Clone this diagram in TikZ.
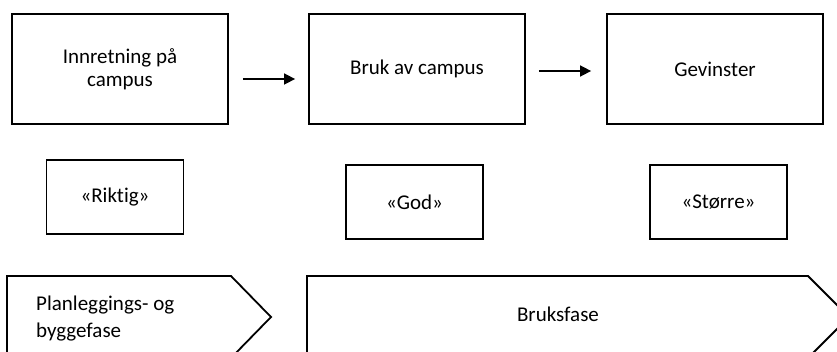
\documentclass[tikz,border=0pt]{standalone}
\usepackage{fontspec}
\setmainfont{Carlito}[Ligatures = NoCommon]
\usetikzlibrary{arrows.meta}
\tikzset{
  stage/.style = {draw, line width = 1.8pt, minimum width = 216pt, minimum height = 110pt, align = center, font = \fontsize{21}{23}\selectfont},
  quality/.style = {draw, line width = 1.8pt, minimum width = 137pt, minimum height = 74pt, font = \fontsize{21}{23}\selectfont},
  flow/.style = {line width = 1.6pt, -{Triangle[length = 11pt, width = 11pt]}},
  phase/.style = {align = left, inner sep = 0pt, font = \fontsize{21}{27}\selectfont}
}
\begin{document}
\begin{tikzpicture}[x = 1pt, y = -1pt]
\useasboundingbox (0,0) rectangle (837,352);
\clip (0,0) rectangle (837,352);
\node [stage] (innr) at (120,69) {Innretning på\\campus};
\node [stage] (bruk) at (417,69) {Bruk av campus};
\node [stage] (gev) at (715,69) {Gevinster};
\draw [flow, shorten < = 14pt, shorten > = 13pt] ([yshift = -10pt]innr.east) -- ([yshift = -10pt]bruk.west);
\draw [flow, shorten < = 13pt, shorten > = 15pt] ([yshift = -2pt]bruk.east) -- ([yshift = -2pt]gev.west);
\node [quality] (rikt) at (115,197) {«Riktig»};
\node [quality] (god) at (414.5,202) {«God»};
\node [quality] (stor) at (718.5,202) {«Større»};
\draw [line width = 1.8pt] (7,358) -- (7,276) -- (231,276) -- (271,317) -- (231,358) -- cycle;
\draw [line width = 1.8pt] (307,358) -- (307,276) -- (808,276) -- (849,317) -- (808,358) -- cycle;
\node [phase, anchor = west] (plan) at (36,318.5) {Planleggings- og\\byggefase};
\node [phase] (bruksfase) at (558,314) {Bruksfase};
\end{tikzpicture}
\end{document}
